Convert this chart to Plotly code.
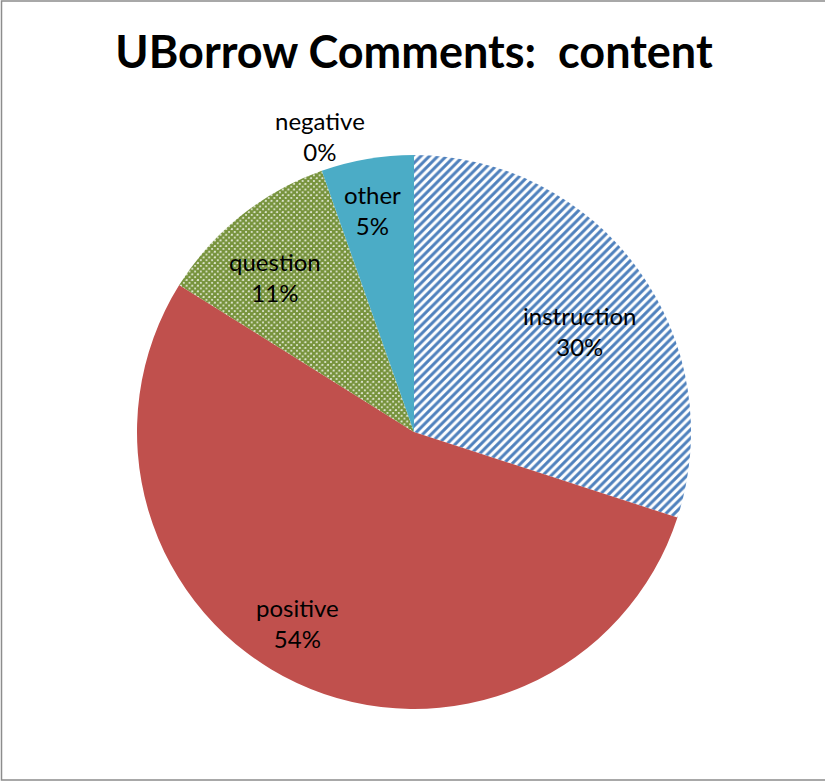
import math
import plotly.graph_objects as go

categories = ["instruction", "positive", "question", "negative", "other"]
values = [30.0, 53.9, 10.7, 0.0, 5.4]
colors = ["#4F81BD", "#C0504D", "#77933C", "#8064A2", "#4BACC6"]
shapes_pat = ["/", "", "x", "", ""]
title_text = "UBorrow Comments:  content"

# label layout style (radial fraction of radius, angular nudge in degrees)
label_radius = [0.70, 0.81, 0.75, 1.12, 0.815]
label_nudge = [4.7, 6.4, -3.2, 1.8, -0.8]

W, H = 825, 782
cx, cy, r = 414, 432, 277
FONT = "Lato, Noto Sans, sans-serif"

fig = go.Figure(go.Pie(
    labels=categories,
    values=values,
    sort=False,
    direction="clockwise",
    rotation=0,
    marker=dict(
        colors=colors,
        line=dict(width=0),
        pattern=dict(
            shape=shapes_pat,
            fgcolor=colors,
            bgcolor=["white", colors[1], "white", colors[3], colors[4]],
            size=[6, 6, 4, 6, 6],
            solidity=[0.5, 0.5, 0.85, 0.5, 0.5],
            fillmode="replace",
        ),
    ),
    textinfo="none",
    showlegend=False,
    hoverinfo="label+percent",
    domain=dict(x=[(cx - r) / W, (cx + r) / W], y=[1 - (cy + r) / H, 1 - (cy - r) / H]),
))

# data labels positioned from the cumulative slice angles
total = sum(values)
annotations = []
cum = 0.0
for lab, v, fr, nd in zip(categories, values, label_radius, label_nudge):
    mid = (cum + v / 2) / total * 360 + nd  # degrees clockwise from 12 o'clock
    cum += v
    a = math.radians(mid)
    px = cx + fr * r * math.sin(a)
    py = cy - fr * r * math.cos(a)
    pct = round(v / total * 100)
    annotations.append(dict(
        x=px / W, y=1 - py / H, xref="paper", yref="paper",
        text=f"{lab}<br>{pct}%", showarrow=False,
        xanchor="center", yanchor="middle",
        font=dict(family=FONT, size=24, color="black"),
    ))

fig.update_layout(
    width=W, height=H,
    margin=dict(l=0, r=0, t=0, b=0),
    paper_bgcolor="white",
    annotations=annotations,
    title=dict(
        text="<b>" + title_text + "</b>",
        x=414 / W, xanchor="center",
        y=1 - 52 / H, yanchor="middle",
        font=dict(family=FONT, size=45, color="black"),
    ),
    shapes=[dict(
        type="rect", xref="paper", yref="paper",
        x0=1.5 / W, x1=1.05, y0=1 - 780 / H, y1=1 - 1 / H,
        line=dict(color="#8C8C8C", width=1.5),
        fillcolor="rgba(0,0,0,0)", layer="below",
    )],
)

fig.write_html("out.html")
